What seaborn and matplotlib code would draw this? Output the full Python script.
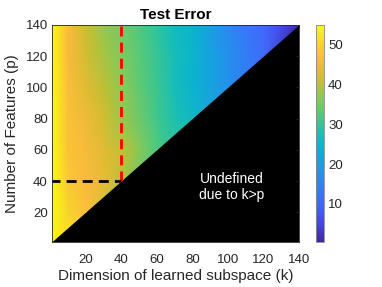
import numpy as np
import matplotlib
matplotlib.use("Agg")
import matplotlib.pyplot as plt
from matplotlib.colors import LinearSegmentedColormap
import seaborn as sns

# knots of the test error surface (k = learned dim, p = number of features)
k_knots = [1, 10, 20, 30, 40, 50, 60, 70, 80, 90, 100, 110, 120, 130, 140]
p_knots = [1, 20, 40, 60, 80, 100, 120, 140]

# test error read along each p row, for k <= p only
err_p1 = [54.8]
err_p20 = [54.8, 50.0, 47.0]
err_p40 = [54.8, 48.5, 46.5, 44.0, 39.5]
err_p60 = [54.8, 48.0, 46.0, 43.5, 40.5, 36.5, 32.0]
err_p80 = [54.8, 47.5, 45.0, 42.0, 38.0, 34.5, 31.0, 28.0, 25.5]
err_p100 = [54.8, 47.0, 43.5, 40.0, 37.0, 33.5, 30.5, 27.0, 24.0, 21.0, 17.5]
err_p120 = [54.8, 46.5, 42.0, 38.5, 36.0, 33.0, 30.0, 27.0, 24.5, 21.0, 17.5,
            14.0, 11.0]
err_p140 = [54.8, 46.5, 41.0, 37.5, 35.0, 32.0, 29.5, 26.0, 24.0, 20.0, 16.5,
            13.0, 10.5, 6.0, 0.5]

sel_k = 40
sel_p = 40

# parula-like colour stops (position, rgb)
parula_stops = [
    (0.00, (0.242, 0.150, 0.660)),
    (0.08, (0.280, 0.260, 0.900)),
    (0.175, (0.260, 0.400, 0.990)),
    (0.27, (0.180, 0.520, 0.960)),
    (0.36, (0.100, 0.620, 0.890)),
    (0.43, (0.040, 0.700, 0.820)),
    (0.50, (0.100, 0.750, 0.700)),
    (0.58, (0.300, 0.790, 0.500)),
    (0.67, (0.550, 0.790, 0.330)),
    (0.73, (0.760, 0.750, 0.200)),
    (0.78, (0.860, 0.740, 0.190)),
    (0.85, (0.990, 0.730, 0.240)),
    (0.92, (0.970, 0.840, 0.170)),
    (1.00, (0.976, 0.984, 0.060)),
]

sns.set_theme(style="white")
plt.rcParams["font.family"] = ["Liberation Sans", "DejaVu Sans"]
parula = LinearSegmentedColormap.from_list("parula", parula_stops, N=256)

rows = [err_p1, err_p20, err_p40, err_p60, err_p80, err_p100, err_p120, err_p140]
kk, pp, zz = [], [], []
for p, row in zip(p_knots, rows):
    for k, v in zip(k_knots, row):
        kk.append(k)
        pp.append(p)
        zz.append(v)
kk = np.array(kk, float)
pp = np.array(pp, float)
zz = np.array(zz, float)

ink = "#262626"
fig = plt.figure(figsize=(3.82, 2.87), dpi=100)
ax = fig.add_axes([0.136, 0.157, 0.647, 0.756])
ax.set_facecolor("black")
mesh = ax.tripcolor(kk, pp, zz, shading="gouraud", cmap=parula)

ax.plot([sel_k, sel_k], [sel_p, p_knots[-1]], color="red", lw=2,
        linestyle=(0, (3.6, 2.2)))
ax.plot([0, sel_k], [sel_p, sel_p], color="black", lw=2,
        linestyle=(0, (3.6, 2.2)))

ax.text(102, 36, "Undefined\ndue to k>p", color="white", fontsize=10,
        ha="center", va="center")

ax.set_xlim(k_knots[0], k_knots[-1])
ax.set_ylim(p_knots[0], p_knots[-1])
ax.set_xticks(k_knots[2::2])
ax.set_yticks(p_knots[1:])
ax.tick_params(direction="in", length=2.5, width=0.6, colors=ink,
               labelsize=9.5, top=True, right=True, pad=3)
ax.tick_params(axis="x", pad=9)
for s in ax.spines.values():
    s.set_color(ink)
    s.set_linewidth(0.6)

ax.set_title("Test Error", fontsize=11, fontweight="bold", color="black", pad=4)
ax.set_xlabel("Dimension of learned subspace (k)", fontsize=11, color=ink,
              labelpad=2)
ax.set_ylabel("Number of Features (p)", fontsize=11, color=ink, labelpad=5)

cax = fig.add_axes([0.827, 0.157, 0.021, 0.756])
cb = fig.colorbar(mesh, cax=cax, ticks=[10, 20, 30, 40, 50])
cb.outline.set_edgecolor("#888888")
cb.outline.set_linewidth(0.6)
cax.tick_params(direction="in", length=2, width=0.5, colors=ink,
                labelsize=9.5, pad=3)

fig.savefig("out.png", dpi=100)
